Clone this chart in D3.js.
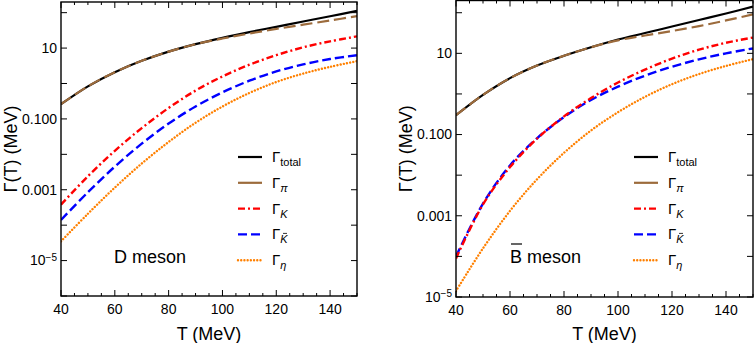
<!DOCTYPE html>
<html>
<head>
<meta charset="utf-8">
<script src="https://cdn.jsdelivr.net/npm/d3@7"></script>
<style>
  body { margin: 0; background: #fff; }
  svg text { font-family: "Liberation Sans", Arial, sans-serif; fill: #000; }
</style>
</head>
<body>
<div id="chart"></div>
<script>
// temperature grid (MeV)
var temps = [40, 50, 60, 70, 80, 90, 100, 110, 120, 130, 140, 150];

// D meson widths (MeV)
var dTotal = [0.26, 0.83, 2.09, 4.37, 7.94, 12.9, 19.5, 28.2, 39.8, 56.2, 79.4, 112];
var dPi    = [0.26, 0.83, 2.09, 4.37, 7.94, 12.9, 18.6, 25.7, 34.7, 45.7, 60.3, 79.4];
var dK     = [3.8e-4, 2.4e-3, 1.26e-2, 5.5e-2, 0.204, 0.63, 1.58, 3.39, 6.3, 10.5, 15.5, 21.4];
var dKbar  = [1.41e-4, 8.5e-4, 4.5e-3, 2.0e-2, 7.4e-2, 0.224, 0.56, 1.20, 2.19, 3.47, 4.9, 6.3];
var dEta   = [3.5e-5, 2.1e-4, 1.15e-3, 5.5e-3, 2.24e-2, 7.8e-2, 0.224, 0.54, 1.10, 1.91, 2.95, 4.27];

// B-bar meson widths (MeV)
var bTotal = [0.30, 0.95, 2.45, 5.0, 8.7, 14.1, 21.9, 31.6, 45.7, 66.1, 95.5, 141];
var bPi    = [0.30, 0.95, 2.45, 5.0, 8.7, 14.1, 20.9, 27.5, 35.5, 46.8, 64.6, 91.2];
var bK     = [8.9e-5, 1.9e-3, 1.58e-2, 7.9e-2, 0.28, 0.79, 1.91, 3.98, 7.4, 12.3, 18.2, 24.5];
var bKbar  = [1.0e-4, 2.0e-3, 1.74e-2, 8.1e-2, 0.27, 0.71, 1.51, 2.82, 4.68, 7.1, 10.0, 13.2];
var bEta   = [1.41e-5, 1.58e-4, 1.32e-3, 7.9e-3, 3.55e-2, 0.126, 0.355, 0.85, 1.74, 3.09, 4.9, 7.2];

var xTicks = [40, 60, 80, 100, 120, 140];
var yLabelTicks = [10, 0.1, 0.001, 1e-5];

var width = 754, height = 343;

var svg = d3.select("#chart").append("svg")
    .attr("width", width)
    .attr("height", height);

// series styles
var styles = [
  {key: "total", sub: "total", italic: false, color: "#000000", dash: null,         w: 2.2},
  {key: "pi",    sub: "\u03c0", italic: true, color: "#9c6b3c", dash: "12,5",       w: 2.2},
  {key: "K",     sub: "K",      italic: true, color: "#ff0000", dash: "7,3,2,3",    w: 2.4},
  {key: "Kbar",  sub: "K",      italic: true, color: "#0000ff", dash: "9,4",        w: 2.4},
  {key: "eta",   sub: "\u03b7", italic: true, color: "#ff8000", dash: "0.01,3.2",   w: 2.4}
];

function yLabel(v) {
  if (v === 10) return "10";
  if (v === 0.1) return "0.100";
  if (v === 0.001) return "0.001";
  return null;
}

function drawPanel(opt) {
  var x = d3.scaleLinear().domain([40, 150]).range([opt.x0, opt.x1]);
  var y = d3.scaleLog().domain([opt.yMin, 200]).range([opt.y1, opt.y0]);

  var g = svg.append("g");

  var clipId = "clip" + opt.id;
  svg.append("clipPath").attr("id", clipId)
    .append("rect")
    .attr("x", opt.x0).attr("y", opt.y0)
    .attr("width", opt.x1 - opt.x0).attr("height", opt.y1 - opt.y0);

  var line = d3.line()
      .x(function(d) { return x(d[0]); })
      .y(function(d) { return y(d[1]); })
      .curve(d3.curveCatmullRom.alpha(0.5));

  var series = {total: opt.total, pi: opt.pi, K: opt.K, Kbar: opt.Kbar, eta: opt.eta};
  var order = ["eta", "Kbar", "K", "total", "pi"];
  var plot = g.append("g").attr("clip-path", "url(#" + clipId + ")");
  order.forEach(function(k) {
    var s = styles.filter(function(st) { return st.key === k; })[0];
    var pts = temps.map(function(t, i) { return [t, series[k][i]]; });
    plot.append("path")
      .attr("d", line(pts))
      .attr("fill", "none")
      .attr("stroke", s.color)
      .attr("stroke-width", s.w)
      .attr("stroke-dasharray", s.dash)
      .attr("stroke-linecap", k === "eta" ? "round" : "butt");
  });

  // frame ticks
  var ticks = g.append("g").attr("stroke", "#000").attr("stroke-width", 1);
  d3.range(40, 151, 5).forEach(function(t) {
    var len = (t % 20 === 0) ? 6 : 3;
    ticks.append("line").attr("x1", x(t)).attr("x2", x(t)).attr("y1", opt.y1).attr("y2", opt.y1 - len);
    ticks.append("line").attr("x1", x(t)).attr("x2", x(t)).attr("y1", opt.y0).attr("y2", opt.y0 + len);
  });
  var decades = d3.range(Math.round(Math.log10(opt.yMin)), 3).map(function(p) { return Math.pow(10, p); });
  decades.forEach(function(v) {
    if (v > 200) return;
    var yy = y(v);
    ticks.append("line").attr("x1", opt.x0).attr("x2", opt.x0 + 6).attr("y1", yy).attr("y2", yy);
    ticks.append("line").attr("x1", opt.x1).attr("x2", opt.x1 - 6).attr("y1", yy).attr("y2", yy);
  });

  g.append("rect")
    .attr("x", opt.x0).attr("y", opt.y0)
    .attr("width", opt.x1 - opt.x0).attr("height", opt.y1 - opt.y0)
    .attr("fill", "none").attr("stroke", "#000").attr("stroke-width", 1.4);

  // tick labels
  xTicks.forEach(function(t) {
    g.append("text").attr("x", x(t)).attr("y", opt.y1 + 18)
      .attr("text-anchor", "middle").attr("font-size", 14).text(t);
  });
  yLabelTicks.forEach(function(v) {
    var t = g.append("text").attr("x", opt.x0 - 4).attr("y", y(v))
      .attr("dy", "0.35em").attr("text-anchor", "end").attr("font-size", 14);
    var lab = yLabel(v);
    if (lab) { t.text(lab); }
    else {
      t.append("tspan").text("10");
      t.append("tspan").attr("dy", "-0.45em").attr("font-size", 10).text("\u22125");
    }
  });

  // axis titles
  g.append("text").attr("x", (opt.x0 + opt.x1) / 2).attr("y", 340)
    .attr("text-anchor", "middle").attr("font-size", 18).text("T (MeV)");
  g.append("text")
    .attr("transform", "translate(" + opt.yTitleX + "," + ((opt.y0 + opt.y1) / 2) + ") rotate(-90)")
    .attr("text-anchor", "middle").attr("font-size", 18).text("\u0393(T) (MeV)");

  // panel name
  g.append("text").attr("x", opt.nameX).attr("y", 263).attr("font-size", 18).text(opt.name);
  if (opt.overline) {
    g.append("line").attr("x1", opt.nameX + 1).attr("x2", opt.nameX + 12)
      .attr("y1", 244).attr("y2", 244).attr("stroke", "#000").attr("stroke-width", 1.2);
  }

  // legend
  styles.forEach(function(s, i) {
    var ly = 157 + i * 25.8;
    g.append("line")
      .attr("x1", opt.legX).attr("x2", opt.legX + 24)
      .attr("y1", ly).attr("y2", ly)
      .attr("stroke", s.color).attr("stroke-width", s.w)
      .attr("stroke-dasharray", s.key === "pi" ? null : s.dash)
      .attr("stroke-linecap", s.key === "eta" ? "round" : "butt");
    var t = g.append("text").attr("x", opt.legX + 34).attr("y", ly + 5).attr("font-size", 15);
    t.append("tspan").text("\u0393");
    var sub = t.append("tspan").attr("dy", 4).attr("font-size", 11).text(s.sub);
    if (s.italic) sub.attr("font-style", "italic");
    if (s.key === "Kbar") {
      g.append("line").attr("x1", opt.legX + 45).attr("x2", opt.legX + 49)
        .attr("y1", ly - 1).attr("y2", ly - 1).attr("stroke", "#000").attr("stroke-width", 0.8);
    }
  });
}

drawPanel({id: "D", x0: 61, x1: 357, y0: 2, y1: 296, yMin: 1e-6,
  total: dTotal, pi: dPi, K: dK, Kbar: dKbar, eta: dEta,
  yTitleX: 17, name: "D meson", nameX: 114, overline: false, legX: 238});

drawPanel({id: "B", x0: 456, x1: 753, y0: 0.5, y1: 297, yMin: 1e-5,
  total: bTotal, pi: bPi, K: bK, Kbar: bKbar, eta: bEta,
  yTitleX: 412, name: "B meson", nameX: 510, overline: true, legX: 634});
</script>
</body>
</html>
